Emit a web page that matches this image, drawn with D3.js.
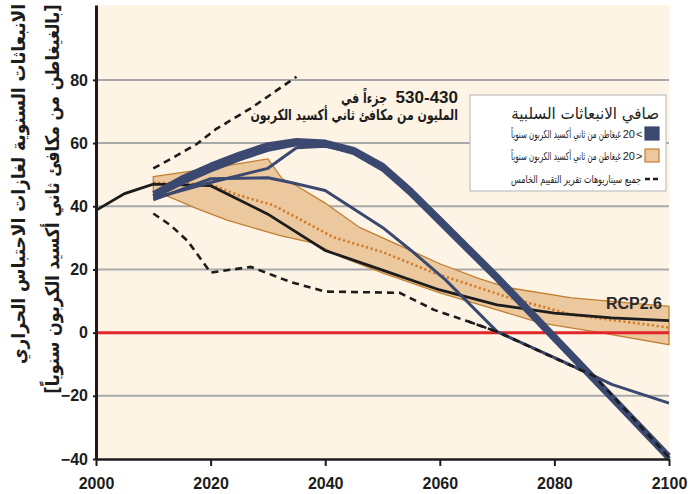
<!DOCTYPE html>
<html>
<head>
<meta charset="utf-8">
<script src="https://cdn.jsdelivr.net/npm/d3@7"></script>
<style>
  html, body { margin: 0; padding: 0; background: #fff; }
  svg { display: block; font-family: "Liberation Sans", Arial, "DejaVu Sans", sans-serif; }
</style>
</head>
<body>
<svg id="chart" width="693" height="494"></svg>
<script>
/* ── Data (GtCO2-eq / yr) ─────────────────────────────────────── */
const xTicks = [2000, 2020, 2040, 2060, 2080, 2100];
const yTicks = [80, 60, 40, 20, 0, -20, -40];
const gridVals = [80, 60, 40, 20, -20];

// RCP2.6 (black)
const rcpYears  = [2000, 2005, 2010, 2020, 2030, 2040, 2050, 2060, 2070, 2080, 2090, 2100];
const rcpValues = [38.7, 44, 47, 46.5, 37.5, 26, 19.8, 13.5, 8.8, 6.2, 4.7, 3.8];

// <20 Gt band (upper / lower edge) and its median (dotted)
const bandUpYears  = [2010, 2020, 2025, 2030, 2032.5, 2035, 2040, 2046, 2051, 2060, 2067, 2072, 2083, 2100];
const bandUpValues = [49.4, 52, 53.5, 55, 48.7, 46.5, 41, 33.3, 29.2, 21.8, 17, 14.2, 11, 8.3];
const bandLoYears  = [2010, 2013, 2017.5, 2023, 2032, 2038, 2043, 2050, 2060, 2070, 2077.5, 2088, 2100];
const bandLoValues = [45, 42.8, 39.3, 35.5, 30.8, 28.3, 23.8, 18.9, 12.6, 7.2, 3.1, 0, -3.8];
const medYears  = [2010, 2020, 2025, 2031, 2036, 2041.4, 2050, 2059, 2071.7, 2083, 2100];
const medValues = [47.5, 46.9, 43.4, 40.3, 35.5, 30.2, 25.5, 18.9, 11.3, 5.7, 1.6];

// >20 Gt scenarios (navy): two thick, two thin
const thickYears   = [2010, 2015, 2020, 2025, 2030, 2035, 2040, 2045, 2050, 2055, 2060, 2070, 2080, 2090, 2100];
const thick1Values = [44, 49, 53, 56.5, 59.5, 60.8, 60.3, 58, 53, 45, 36, 18, -1, -20, -39];
const thick2Values = [43, 47.5, 51.5, 55, 58, 59.8, 59.5, 57, 51.8, 43.8, 34.8, 16.8, -2.2, -21, -40];
const thinAYears  = [2010, 2020, 2030, 2035, 2040, 2045, 2050, 2060, 2070, 2080, 2090, 2100];
const thinAValues = [42.5, 47.5, 52, 58.5, 59, 57, 52, 35, 17, -2, -20.5, -39.5];
const thinBYears  = [2010, 2020, 2030, 2034, 2040, 2050, 2055, 2061, 2070, 2080, 2087, 2090, 2100];
const thinBValues = [42, 48.7, 49, 47.5, 45, 33.3, 26, 16.7, 0.3, -7.9, -13.8, -16.4, -22.3];

// all AR5 scenarios envelope (dashed)
const dashUpYears  = [2010, 2013.4, 2017.6, 2021, 2027, 2035];
const dashUpValues = [52, 55.3, 59.7, 64.5, 71, 81];
const dashLoYears  = [2010, 2013, 2016, 2020, 2027, 2034, 2040, 2053, 2059, 2065, 2070, 2080, 2087, 2100];
const dashLoValues = [37.7, 34, 29, 19, 20.8, 16, 13, 12.6, 7.2, 3.5, 0.3, -8, -13.8, -39.5];

/* ── Texts ───────────────────────────────────────────────────── */
const yTitle1 = "الانبعاثات السنوية لغازات الاحتباس الحراري";
const yTitle2 = "[بالغيغاطن من مكافئ ثاني أكسيد الكربون سنوياً]";
const annNum = "530-430";
const annWord = "جزءاً في";
const annLine2 = "المليون من مكافئ ثاني أكسيد الكربون";
const legTitle = "صافي الانبعاثات السلبية";
const legUnit = "غيغاطن من ثاني أكسيد الكربون سنوياً";
const legItems = [
  { key: "navy", num: "20", sign: "<" },
  { key: "band", num: "20", sign: ">" },
];
const legDash = "جميع سيناريوهات تقرير التقييم الخامس";

/* ── Colours ─────────────────────────────────────────────────── */
const C = {
  bg: "#fdf4e6", grid: "#a9a9a9", red: "#e2252b", navy: "#3b4870",
  bandFill: "#ecc89f", bandEdge: "#c27f32", median: "#d27b26", ink: "#1c1c1c"
};
const AR = "DejaVu Sans, sans-serif";

/* ── Setup ───────────────────────────────────────────────────── */
const svg = d3.select("#chart");
const L = 96, R = 669, T = 5, B = 459;
const x = d3.scaleLinear().domain([2000, 2100]).range([L, R]);
const y = d3.scaleLinear().domain([-40, 103.7]).range([B, T]);
const zip = (xs, ys) => xs.map((v, i) => [v, ys[i]]);
const line = d3.line().x(d => x(d[0])).y(d => y(d[1]));

// squeeze a text horizontally so it spans w px (keeps glyph height, Arabic shaping intact)
function squeeze(t, tx, ty, w, rot) {
  const len = t.node().getComputedTextLength();
  const s = len > 0 ? w / len : 1;
  t.attr("x", 0).attr("y", 0)
   .attr("transform", `translate(${tx},${ty})${rot ? " rotate(" + rot + ")" : ""} scale(${s.toFixed(3)},1)`);
  return t;
}

svg.append("rect").attr("x", L).attr("y", T).attr("width", R - L).attr("height", B - T).attr("fill", C.bg);

// gridlines
svg.append("g").selectAll("line").data(gridVals).join("line")
  .attr("x1", L).attr("x2", R).attr("y1", d => y(d)).attr("y2", d => y(d))
  .attr("stroke", C.grid).attr("stroke-width", 2);

// band
const bandPts = zip(bandUpYears, bandUpValues).concat(zip(bandLoYears, bandLoValues).reverse());
svg.append("path").attr("d", line(bandPts) + "Z")
  .attr("fill", C.bandFill).attr("stroke", C.bandEdge).attr("stroke-width", 1.3);

svg.append("path").attr("d", line(zip(medYears, medValues)))
  .attr("fill", "none").attr("stroke", C.median).attr("stroke-width", 2.6)
  .attr("stroke-dasharray", "2.2,2.6");

// zero line
svg.append("line").attr("x1", L).attr("x2", R).attr("y1", y(0)).attr("y2", y(0))
  .attr("stroke", C.red).attr("stroke-width", 3);

// RCP2.6
svg.append("path").attr("d", line(zip(rcpYears, rcpValues)))
  .attr("fill", "none").attr("stroke", C.ink).attr("stroke-width", 2.8);

// dashed envelope
[[dashUpYears, dashUpValues], [dashLoYears, dashLoValues]].forEach(([xs, ys]) => {
  svg.append("path").attr("d", line(zip(xs, ys)))
    .attr("fill", "none").attr("stroke", C.ink).attr("stroke-width", 2.6)
    .attr("stroke-dasharray", "7,5");
});

// navy scenarios
[[thinBYears, thinBValues, 3], [thinAYears, thinAValues, 3],
 [thickYears, thick2Values, 5], [thickYears, thick1Values, 5]].forEach(([xs, ys, w]) => {
  svg.append("path").attr("d", line(zip(xs, ys)))
    .attr("fill", "none").attr("stroke", C.navy).attr("stroke-width", w)
    .attr("stroke-linejoin", "round");
});

// lower dashed tail drawn again over the navy lines
svg.append("path").attr("d", line(zip(dashLoYears.slice(9), dashLoValues.slice(9))))
  .attr("fill", "none").attr("stroke", C.ink).attr("stroke-width", 2.6)
  .attr("stroke-dasharray", "7,5");

/* ── Axes ────────────────────────────────────────────────────── */
const xAxis = svg.append("g").attr("transform", `translate(0,${B})`)
  .call(d3.axisBottom(x).tickValues(xTicks).tickFormat(d3.format("d")).tickSize(7).tickSizeOuter(0));
xAxis.select(".domain").attr("stroke", C.ink).attr("stroke-width", 2.5);
xAxis.selectAll(".tick line").attr("stroke", C.ink).attr("stroke-width", 2);
xAxis.selectAll(".tick text").attr("font-size", 16).attr("font-weight", "bold")
  .attr("fill", C.ink).attr("dy", "1.25em").attr("font-family", "Liberation Sans, Arial, sans-serif");

const yAxis = svg.append("g").attr("transform", `translate(${L},0)`)
  .call(d3.axisLeft(y).tickValues(yTicks).tickSize(3).tickSizeOuter(0));
yAxis.select(".domain").attr("stroke", C.ink).attr("stroke-width", 3);
yAxis.selectAll(".tick line").attr("stroke", C.ink).attr("stroke-width", 2);
yAxis.selectAll(".tick text").attr("font-size", 16).attr("font-weight", "bold")
  .attr("fill", C.ink).attr("x", -8).attr("font-family", "Liberation Sans, Arial, sans-serif");

/* ── Y title (two rotated lines) ─────────────────────────────── */
const t1 = svg.append("text").attr("text-anchor", "middle").attr("font-size", 19)
  .attr("font-weight", "bold").attr("fill", C.ink).attr("font-family", AR).text(yTitle1);
squeeze(t1, 25, 184, 360, -90);
const t2 = svg.append("text").attr("text-anchor", "middle").attr("font-size", 19)
  .attr("font-weight", "bold").attr("fill", C.ink).attr("font-family", AR).text(yTitle2);
squeeze(t2, 59, 199, 390, -90);

/* ── Annotation ──────────────────────────────────────────────── */
svg.append("text").attr("x", 458).attr("y", 103).attr("text-anchor", "end")
  .attr("font-size", 17).attr("font-weight", "bold").attr("fill", C.ink).text(annNum);
const aw = svg.append("text").attr("text-anchor", "end").attr("font-size", 15)
  .attr("font-weight", "bold").attr("fill", C.ink).attr("font-family", AR).text(annWord);
squeeze(aw, 387, 103, 46);
const al = svg.append("text").attr("text-anchor", "end").attr("font-size", 15)
  .attr("font-weight", "bold").attr("fill", C.ink).attr("font-family", AR).text(annLine2);
squeeze(al, 458, 120, 208);

// RCP2.6 label
svg.append("text").attr("x", 662).attr("y", 309).attr("text-anchor", "end")
  .attr("font-size", 16).attr("font-weight", "bold").attr("fill", "#2a2a2a").text("RCP2.6");

/* ── Legend ──────────────────────────────────────────────────── */
const lg = svg.append("g");
lg.append("rect").attr("x", 470).attr("y", 95).attr("width", 196).attr("height", 96)
  .attr("fill", "#fff").attr("stroke", "#b5b5b5").attr("stroke-width", 1);
const lt = lg.append("text").attr("text-anchor", "end").attr("font-size", 16)
  .attr("fill", C.ink).attr("font-family", AR).text(legTitle);
squeeze(lt, 659, 119, 148);

legItems.forEach((it, i) => {
  const cy = 134 + i * 22;
  lg.append("rect").attr("x", 645).attr("y", cy - 7).attr("width", 14).attr("height", 13)
    .attr("fill", it.key === "navy" ? C.navy : C.bandFill)
    .attr("stroke", it.key === "navy" ? C.navy : C.bandEdge).attr("stroke-width", 1.2);
  // number and comparison sign as separate runs, so the bidi order stays fixed
  lg.append("text").attr("x", 635).attr("y", cy + 4).attr("text-anchor", "end")
    .attr("font-size", 11).attr("fill", C.ink).text(it.num);
  lg.append("text").attr("x", 636).attr("y", cy + 4).attr("text-anchor", "start")
    .attr("font-size", 11).attr("fill", C.ink).text(it.sign);
  const tx = lg.append("text").attr("text-anchor", "end").attr("font-size", 11)
    .attr("fill", C.ink).attr("font-family", AR).text(legUnit);
  squeeze(tx, 621, cy + 4, 110);
});
lg.append("line").attr("x1", 645).attr("x2", 660).attr("y1", 179).attr("y2", 179)
  .attr("stroke", C.ink).attr("stroke-width", 2.4).attr("stroke-dasharray", "5,3");
const td = lg.append("text").attr("text-anchor", "end").attr("font-size", 11)
  .attr("fill", C.ink).attr("font-family", AR).text(legDash);
squeeze(td, 641, 183, 130);
</script>
</body>
</html>
